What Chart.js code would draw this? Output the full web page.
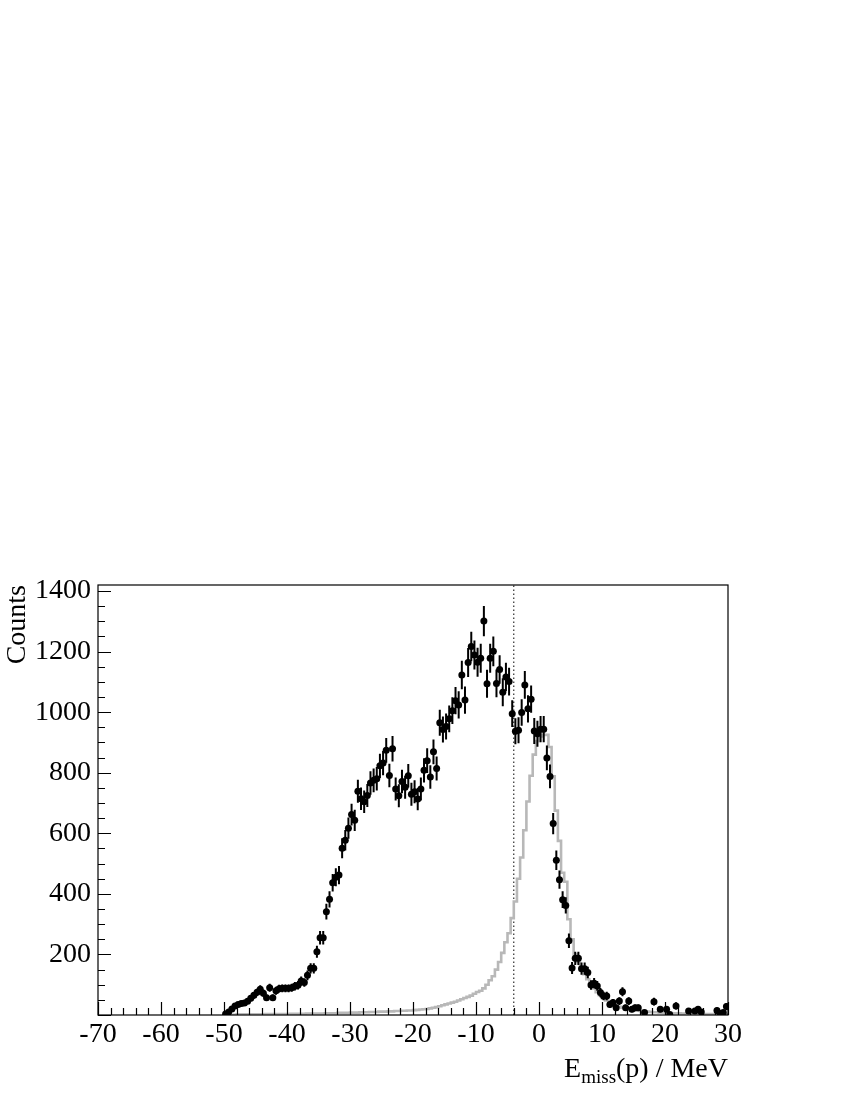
<!DOCTYPE html>
<html>
<head>
<meta charset="utf-8">
<script src="https://cdn.jsdelivr.net/npm/chart.js@4.4.1/dist/chart.umd.min.js"></script>
<style>
  html, body { margin: 0; padding: 0; background: #ffffff; }
  #wrap { width: 850px; height: 1100px; position: relative; }
</style>
</head>
<body>
<div id="wrap"><canvas id="c" width="850" height="1100"></canvas></div>
<script>
// ---------------- DATA ----------------
// Histogram binning (MeV)
const xMin = -70, xMax = 30, binWidth = 0.5;
const dataStart = -50;          // first bin lower edge of the data / simulation arrays
const yMax = 1420;
const xTickValues = [-70, -60, -50, -40, -30, -20, -10, 0, 10, 20, 30];
const yTickValues = [200, 400, 600, 800, 1000, 1200, 1400];
const markerLine = -4;          // dotted vertical line position (MeV)

// Measured counts, one value per 0.5 MeV bin from -50 to 30 MeV (null = empty bin)
const counts = [
  3, 10, 20, 30, 35, 38, 40, 45, 55, 65,
  75, 85, 72, 57, 90, 57, 80, 87, 88, 88,
  88, 90, 95, 98, 112, 107, 131, 154, 154, 209,
  255, 255, 341, 382, 437, 455, 462, 551, 577, 617,
  662, 643, 739, 714, 704, 725, 766, 775, 780, 823,
  832, 874, 791, 879, 746, 724, 771, 752, 790, 729,
  737, 713, 746, 808, 840, 786, 869, 814, 965, 943,
  953, 978, 1005, 1038, 1024, 1123, 1040, 1164, 1217, 1189,
  1165, 1178, 1301, 1094, 1178, 1201, 1095, 1141, 1066, 1116,
  1101, 995, 937, 940, 999, 1090, 1011, 1043, 938, 929,
  944, 944, 849, 788, 632, 511, 447, 381, 362, 245,
  155, 187, 187, 153, 153, 140, 99, 105, 96, 74,
  63, 63, 35, 41, 24, 46, 77, 24, 46, 19,
  24, 24, null, 8, null, null, 44, null, 19, null,
  19, 2, null, 30, null, null, null, 13, null, 13,
  19, 10, null, null, null, null, 15, 5, 8, 28
];
// Error bar half-lengths for each bin
const errors = [
  3, 4, 6, 8, 8, 9, 9, 9, 10, 11,
  12, 13, 12, 11, 13, 11, 13, 13, 13, 13,
  13, 13, 14, 14, 15, 14, 16, 17, 17, 20,
  22, 22, 26, 27, 29, 30, 30, 33, 34, 35,
  36, 35, 38, 37, 37, 38, 39, 39, 39, 40,
  40, 41, 39, 42, 38, 38, 39, 38, 39, 38,
  38, 37, 38, 40, 41, 39, 41, 40, 43, 43,
  43, 44, 44, 45, 45, 47, 45, 48, 49, 48,
  48, 48, 50, 46, 48, 49, 46, 47, 46, 47,
  46, 44, 43, 43, 44, 46, 45, 45, 43, 43,
  43, 43, 41, 39, 35, 32, 30, 28, 27, 24,
  20, 22, 22, 20, 20, 19, 16, 17, 16, 15,
  14, 14, 12, 12, 11, 13, 15, 11, 13, 10,
  11, 11, 0, 8, 0, 0, 13, 0, 10, 0,
  10, 6, 0, 12, 0, 0, 0, 9, 0, 9,
  10, 8, 0, 0, 0, 0, 10, 7, 8, 12
];
// Simulated spectrum (grey histogram), same binning
const simulation = [
  1, 1, 1, 1, 2, 2, 2, 2, 2, 2,
  2, 2, 2, 3, 3, 3, 3, 3, 3, 3,
  3, 4, 4, 4, 4, 4, 5, 5, 5, 5,
  5, 5, 6, 6, 6, 6, 7, 7, 7, 7,
  8, 8, 8, 9, 9, 9, 10, 10, 10, 11,
  11, 11, 12, 12, 13, 13, 14, 14, 15, 15,
  16, 17, 18, 19, 20, 22, 24, 26, 29, 32,
  35, 38, 41, 44, 48, 52, 56, 60, 64, 70,
  76, 80, 88, 100, 115, 128, 150, 175, 205, 240,
  270, 320, 375, 450, 520, 610, 705, 790, 860, 905,
  920, 925, 925, 885, 788, 675, 575, 470, 440, 316,
  250, 200, 175, 155, 135, 118, 100, 88, 75, 65,
  55, 48, 40, 35, 30, 27, 24, 21, 19, 17,
  15, 14, 13, 12, 11, 10, 9, 9, 8, 8,
  7, 7, 6, 6, 6, 5, 5, 5, 4, 4,
  4, 4, 3, 3, 3, 3, 3, 2, 2, 2
];

// ---------------- BUILD ----------------
const FONT = "'Liberation Serif', 'DejaVu Serif', serif";
const FS = 28;

const dataPoints = [];
counts.forEach((v, i) => {
  if (v !== null) dataPoints.push({ x: dataStart + binWidth * (i + 0.5), y: v, e: errors[i] });
});
const simPoints = simulation.map((v, i) => ({ x: dataStart + binWidth * (i + 0.5), y: v }));
simPoints.unshift({ x: dataStart, y: simulation[0] });
simPoints.push({ x: dataStart + binWidth * simulation.length, y: simulation[simulation.length - 1] });

const rootAxes = {
  id: 'rootAxes',
  afterDatasetsDraw(chart) {
    const { ctx, chartArea: a, scales: { x, y } } = chart;
    const ds = chart.data.datasets[0];
    ctx.save();
    // error bars
    ctx.strokeStyle = '#000';
    ctx.lineWidth = 2;
    ctx.beginPath();
    ds.data.forEach(p => {
      if (!p.e) return;
      const px = x.getPixelForValue(p.x);
      const y1 = Math.min(a.bottom, y.getPixelForValue(Math.max(0, p.y - p.e)));
      const y2 = Math.max(a.top, y.getPixelForValue(p.y + p.e));
      ctx.moveTo(px, y1);
      ctx.lineTo(px, y2);
    });
    ctx.stroke();
    ctx.restore();
  },
  afterDraw(chart) {
    const { ctx, chartArea: a, scales: { x, y } } = chart;
    ctx.save();
    ctx.strokeStyle = '#000';
    ctx.lineWidth = 1.2;
    // frame
    ctx.strokeRect(a.left, a.top, a.right - a.left, a.bottom - a.top);
    ctx.beginPath();
    // x ticks: major every 10, minor every 2 (inward)
    for (let v = xMin; v <= xMax + 1e-9; v += 2) {
      const px = Math.round(x.getPixelForValue(v)) + 0.5;
      const len = (Math.abs(v % 10) < 1e-9) ? 13 : 7;
      ctx.moveTo(px, a.bottom);
      ctx.lineTo(px, a.bottom - len);
    }
    // y ticks: major every 200, minor every 50
    for (let v = 0; v <= yMax; v += 50) {
      const py = Math.round(y.getPixelForValue(v)) + 0.5;
      const len = (v % 200 === 0) ? 13 : 7;
      ctx.moveTo(a.left, py);
      ctx.lineTo(a.left + len, py);
    }
    ctx.stroke();

    // x axis title with subscript
    const parts = [
      { t: 'E', size: FS, dy: 0 },
      { t: 'miss', size: 19, dy: 6 },
      { t: '(p) / MeV', size: FS, dy: 0 }
    ];
    let total = 0;
    parts.forEach(p => { ctx.font = p.size + 'px ' + FONT; p.w = ctx.measureText(p.t).width; total += p.w; });
    let cx = a.right - total;
    const base = a.bottom + 62;
    ctx.fillStyle = '#000';
    ctx.textBaseline = 'alphabetic';
    ctx.textAlign = 'left';
    parts.forEach(p => {
      ctx.font = p.size + 'px ' + FONT;
      ctx.fillText(p.t, cx, base + p.dy);
      cx += p.w;
    });
    ctx.restore();
  }
};

new Chart(document.getElementById('c'), {
  type: 'scatter',
  data: {
    datasets: [
      {
        label: 'data',
        data: dataPoints,
        pointRadius: 3.5,
        pointHoverRadius: 3.5,
        pointBackgroundColor: '#000',
        pointBorderWidth: 0,
        showLine: false,
        order: 0
      },
      {
        label: 'simulation',
        type: 'line',
        data: simPoints,
        stepped: 'middle',
        borderColor: '#b8b8b8',
        borderWidth: 2.6,
        pointRadius: 0,
        fill: false,
        order: 2
      },
      {
        label: 'marker',
        type: 'line',
        data: [{ x: markerLine, y: 0 }, { x: markerLine, y: yMax }],
        borderColor: '#000',
        borderWidth: 1,
        borderDash: [1.5, 2.5],
        pointRadius: 0,
        fill: false,
        order: 3
      }
    ]
  },
  options: {
    responsive: false,
    animation: false,
    devicePixelRatio: 1,
    layout: { padding: { top: 585, right: 122, left: 0, bottom: 0 } },
    plugins: { legend: { display: false }, tooltip: { enabled: false } },
    scales: {
      x: {
        type: 'linear',
        min: xMin,
        max: xMax,
        afterFit: s => { s.height = 85; },
        afterBuildTicks: s => { s.ticks = xTickValues.map(v => ({ value: v })); },
        ticks: {
          autoSkip: false,
          maxRotation: 0,
          padding: 3,
          color: '#000',
          font: { family: FONT, size: FS },
          callback: v => String(v)
        },
        grid: { display: false, drawTicks: false },
        border: { display: false }
      },
      y: {
        type: 'linear',
        min: 0,
        max: yMax,
        afterFit: s => { s.width = 98; },
        afterBuildTicks: s => { s.ticks = yTickValues.map(v => ({ value: v })); },
        ticks: {
          padding: 7,
          color: '#000',
          font: { family: FONT, size: FS },
          callback: v => String(v)
        },
        grid: { display: false, drawTicks: false },
        border: { display: false },
        title: {
          display: true,
          text: 'Counts',
          align: 'end',
          color: '#000',
          font: { family: FONT, size: FS },
          padding: { top: 1, bottom: 0 }
        }
      }
    }
  },
  plugins: [rootAxes]
});
</script>
</body>
</html>
